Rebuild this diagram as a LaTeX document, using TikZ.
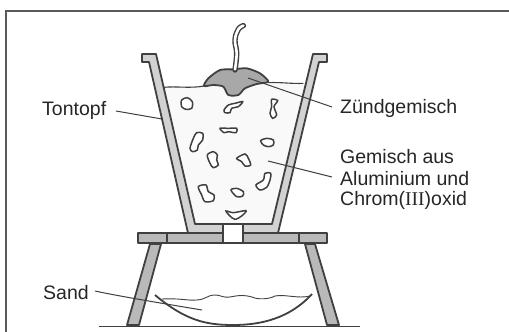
\documentclass[tikz,border=0pt]{standalone}
\usepackage{fontspec}
\setmainfont{Liberation Sans}
\newfontfamily\serifIII{Liberation Serif}
\definecolor{ink}{HTML}{404040}
\definecolor{wall}{HTML}{D2D2D2}
\definecolor{slab}{HTML}{B9B9B9}
\definecolor{mixfill}{HTML}{A8A8A8}
\definecolor{inside}{HTML}{F9F9F9}
\tikzset{
  outline/.style={draw=ink,line width=1.8pt,line join=round},
  thinline/.style={draw=ink,line width=0.9pt},
  leader/.style={draw=ink,line width=1pt},
  lump/.style={draw=ink,line width=1.5pt,fill=white},
  lbl/.style={anchor=base west,inner sep=0pt,text=black!85,font=\fontsize{19.5pt}{21pt}\selectfont}
}
\begin{document}
\begin{tikzpicture}[x=1pt,y=-1pt]
\useasboundingbox (0,0) rectangle (509,332);
\fill[white] (0,0) rectangle (509,332);
% frame
\draw[draw=black!65,line width=1.3pt] (6,332) -- (6,11) -- (509,11);
% pot
\fill[inside] (163.6,87) -- (195,224) -- (272,224) -- (305,83) -- cycle;
\path[outline,fill=wall] (142,54) -- (142,62) -- (149,62) -- (188,233) -- (223,233) -- (223,224) -- (195,224) -- (156,54) -- cycle;
\path[outline,fill=wall] (327,54) -- (327,62) -- (319,62) -- (278,233) -- (243,233) -- (243,224) -- (272,224) -- (313,54) -- cycle;
% slab
\path[outline,fill=slab] (138,233) rectangle (327,243);
\path[outline,fill=white] (223,224) rectangle (243,243);
\draw[outline] (167,233) -- (167,243) (299,233) -- (299,243);
% legs and ground
\path[outline,fill=slab] (150,244) -- (161,244) -- (139,325) -- (127,325) -- cycle;
\path[outline,fill=slab] (305,244) -- (315,244) -- (339,325) -- (327,325) -- cycle;
\draw[draw=ink,line width=1.8pt] (99,326.5) -- (360,326.5);
% bowl and sand
\draw[outline] (155,295) .. controls (185,320) and (205,325) .. (233,325) .. controls (262,325) and (290,318) .. (312,294);
\draw[thinline] (162,299) .. controls (180,298) and (190,301) .. (196,300) .. controls (205,300) and (208,295) .. (214,295) .. controls (222,295) and (222,298) .. (230,297) .. controls (240,295) and (245,295) .. (252,297) .. controls (258,300) and (270,299) .. (275,296) .. controls (285,294) and (298,299) .. (310,296);
% surface
\begin{scope}[shift={(100,10)},scale=0.33333]
\draw[thinline,line width=1.1pt] (190,232) .. controls (230,228) and (270,236) .. (312,228);
\draw[thinline,line width=1.1pt] (505,218) .. controls (540,216) and (580,222) .. (610,220);
% igniter mixture
\path[outline,fill=mixfill] plot[smooth cycle,tension=0.45] coordinates {(312,228) (325,205) (360,180) (400,178) (440,175) (480,190) (505,215) (470,222) (435,235) (415,255) (385,255) (370,230) (340,225)};
% wick
\draw[draw=ink,line width=5.4pt,line cap=round] plot[smooth,tension=0.7] coordinates {(405,180) (410,130) (405,90) (415,58) (430,47)};
\draw[draw=white,line width=2.6pt,line cap=round] plot[smooth,tension=0.7] coordinates {(405,178) (410,130) (405,90) (415,58) (430,47)};
% lumps, upper part
\path[lump] plot[smooth cycle] coordinates {(245,270) (262,263) (277,275) (275,295) (258,298) (245,290)};
\path[lump] plot[smooth cycle] coordinates {(372,300) (385,285) (405,280) (428,275) (415,290) (395,295) (390,308) (375,308)};
\path[lump] plot[smooth cycle] coordinates {(515,268) (533,272) (522,290) (530,315) (518,325) (510,310) (515,290)};
\path[lump] plot[smooth cycle] coordinates {(360,355) (385,355) (410,355) (408,368) (385,365) (372,368)};
\end{scope}
\begin{scope}[shift={(100,130)},scale=0.33333]
\path[lump] plot[smooth cycle] coordinates {(270,55) (280,25) (290,8) (308,10) (308,30) (295,45) (292,60) (278,65)};
\path[lump] plot[smooth cycle] coordinates {(482,32) (500,25) (520,30) (520,45) (505,50) (490,45)};
\path[lump] plot[smooth cycle] coordinates {(322,75) (340,65) (352,75) (350,90) (355,105) (340,113) (330,100)};
\path[lump] plot[smooth cycle] coordinates {(410,85) (435,72) (445,85) (452,105) (435,108) (425,95)};
\path[lump] plot[smooth cycle] coordinates {(468,165) (490,150) (495,130) (512,130) (510,150) (500,172) (480,180)};
\path[lump] plot[smooth cycle] coordinates {(295,170) (318,165) (325,185) (342,195) (340,212) (315,215) (305,195)};
\path[lump] plot[smooth cycle] coordinates {(393,180) (410,175) (430,185) (428,198) (410,200)};
\path[lump] plot[smooth cycle] coordinates {(378,243) (400,248) (438,242) (425,258) (405,268) (390,258)};
\end{scope}
% labels
\node[lbl] (tontopf) at (42,115) {Tontopf};
\node[lbl] (zuend) at (340,113) {Zündgemisch};
\node[lbl] (gemisch1) at (340,163) {Gemisch aus};
\node[lbl] (gemisch2) at (340,185) {Aluminium und};
\node[lbl] (gemisch3) at (340,205) {Chrom({\serifIII III})oxid};
\node[lbl] (sand) at (43,299) {Sand};
% leader ends
\coordinate (tontopfA) at (116,111);
\coordinate (tontopfB) at (162,119);
\coordinate (zuendA) at (332,107);
\coordinate (zuendB) at (248,78);
\coordinate (gemA) at (332,177);
\coordinate (gemB) at (268,161);
\coordinate (sandA) at (95,291);
\coordinate (sandB) at (202,310);
\draw[leader] (tontopfA) -- (tontopfB);
\draw[leader] (zuendA) -- (zuendB);
\draw[leader] (gemA) -- (gemB);
\draw[leader] (sandA) .. controls (118,296) and (160,303) .. (sandB);
\end{tikzpicture}
\end{document}
